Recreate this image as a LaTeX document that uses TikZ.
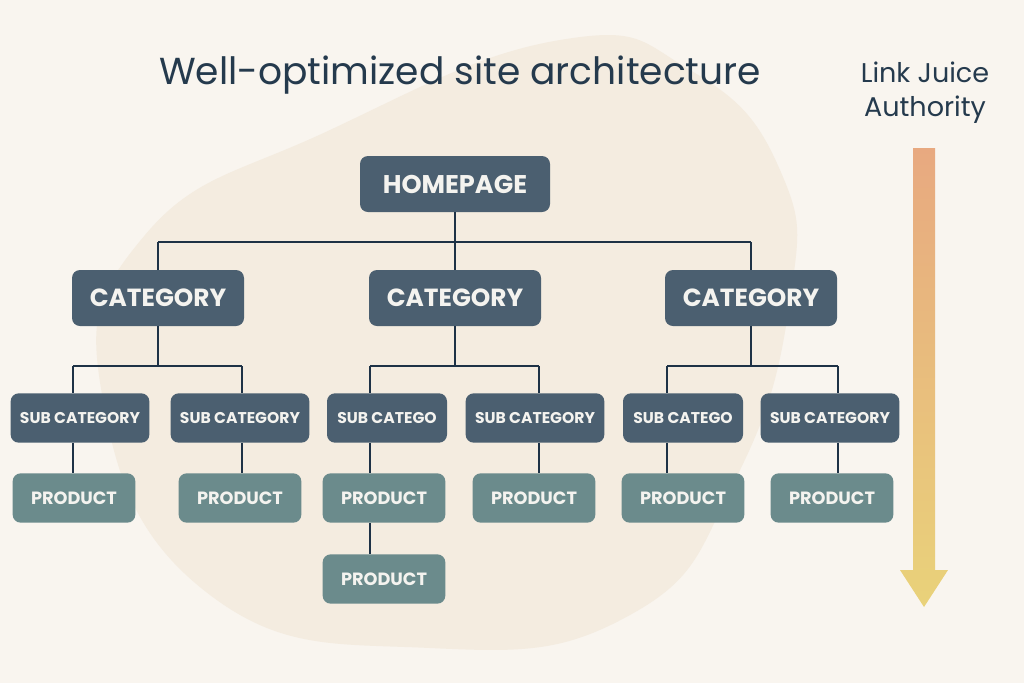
\documentclass[tikz,border=0pt]{standalone}
\usepackage{fontspec}
\setmainfont{Poppins}
\usetikzlibrary{calc}
\definecolor{bgc}{HTML}{F9F5EF}
\definecolor{blobc}{HTML}{F4ECE0}
\definecolor{darkbox}{HTML}{4B5F70}
\definecolor{prodbox}{HTML}{6B8B8C}
\definecolor{linec}{HTML}{1E3246}
\definecolor{titlec}{HTML}{253A4D}
\definecolor{boxtext}{HTML}{F4F3EF}
\definecolor{arrtop}{HTML}{E8A980}
\definecolor{arrbot}{HTML}{E9D27A}
\tikzset{
  box/.style={rounded corners=6pt, inner sep=0pt, text=boxtext, font=\bfseries},
  homebox/.style={box, fill=darkbox, minimum width=142.5pt, minimum height=42pt, font=\bfseries\fontsize{19.2}{21}\selectfont},
  catbox/.style={box, fill=darkbox, minimum width=129pt, minimum height=42pt, font=\bfseries\fontsize{18.6}{20}\selectfont},
  subbox/.style={box, fill=darkbox, minimum width=104pt, minimum height=37pt, font=\bfseries\fontsize{11.7}{14}\selectfont},
  shortsub/.style={subbox, minimum width=90pt},
  prodbox/.style={box, fill=prodbox, minimum width=92pt, minimum height=37pt, font=\bfseries\fontsize{13.3}{15}\selectfont},
  conn/.style={draw=linec, line width=1.5pt},
}
\begin{document}
\begin{tikzpicture}[x=0.75pt,y=-0.75pt]
\useasboundingbox (0,0) rectangle (1024,683);
\fill[bgc] (0,0) rectangle (1024,683);
% background blob
\fill[blobc] plot[smooth cycle, tension=0.8] coordinates {(560,40) (690,70) (780,170) (790,300) (735,480) (630,615) (430,648) (210,595) (103,400) (145,235) (330,130)};
% title
\node[text=titlec, font=\fontsize{28.2}{30}\selectfont] (title) at (460,75) {Well-optimized site architecture};
\node[text=titlec, font=\fontsize{20.3}{25.5}\selectfont, align=center] (lj) at (925,93) {Link Juice\\Authority};
% arrow
\shade[top color=arrtop, bottom color=arrbot] (913,148) -- (935,148) -- (935,570) -- (948,570) -- (924,607) -- (900,570) -- (913,570) -- cycle;
% nodes
\node[homebox] (home) at (455,184) {HOMEPAGE};
\node[catbox] (cat1) at (158,298) {CATEGORY};
\node[catbox] (cat2) at (455,298) {CATEGORY};
\node[catbox] (cat3) at (751,298) {CATEGORY};
\node[subbox] (sub1) at (80,418) {SUB CATEGORY};
\node[subbox] (sub2) at (240,418) {SUB CATEGORY};
\node[shortsub] (sub3) at (387,418) {SUB CATEGO};
\node[subbox] (sub4) at (535,418) {SUB CATEGORY};
\node[shortsub] (sub5) at (683,418) {SUB CATEGO};
\node[subbox] (sub6) at (830,418) {SUB CATEGORY};
\node[prodbox] (p1) at (74,498) {PRODUCT};
\node[prodbox] (p2) at (240,498) {PRODUCT};
\node[prodbox] (p3) at (384,498) {PRODUCT};
\node[prodbox] (p3b) at (384,579) {PRODUCT};
\node[prodbox] (p4) at (534,498) {PRODUCT};
\node[prodbox] (p5) at (683,498) {PRODUCT};
\node[prodbox] (p6) at (832,498) {PRODUCT};
% bus coordinates
\coordinate (b0l) at (158,242);
\coordinate (b0r) at (751,242);
\coordinate (b1l) at (73,366);
\coordinate (b1r) at (242,366);
\coordinate (b2l) at (370,366);
\coordinate (b2r) at (539,366);
\coordinate (b3l) at (667,366);
\coordinate (b3r) at (838,366);
% connectors
\draw[conn] (home.south) -- (home.south |- b0l);
\draw[conn] (b0l) -- (b0r);
\draw[conn] (b0l) -- (cat1.north);
\draw[conn] (cat2.north |- b0l) -- (cat2.north);
\draw[conn] (b0r) -- (cat3.north);
\draw[conn] (cat1.south) -- (cat1.south |- b1l);
\draw[conn] (b1l) -- (b1r);
\draw[conn] (b1l) -- (b1l |- sub1.north);
\draw[conn] (b1r) -- (b1r |- sub2.north);
\draw[conn] (cat2.south) -- (cat2.south |- b2l);
\draw[conn] (b2l) -- (b2r);
\draw[conn] (b2l) -- (b2l |- sub3.north);
\draw[conn] (b2r) -- (b2r |- sub4.north);
\draw[conn] (cat3.south) -- (cat3.south |- b3l);
\draw[conn] (b3l) -- (b3r);
\draw[conn] (b3l) -- (b3l |- sub5.north);
\draw[conn] (b3r) -- (b3r |- sub6.north);
\draw[conn] (b1l |- sub1.south) -- (b1l |- p1.north);
\draw[conn] (b1r |- sub2.south) -- (b1r |- p2.north);
\draw[conn] (b2l |- sub3.south) -- (b2l |- p3.north);
\draw[conn] (b2l |- p3.south) -- (b2l |- p3b.north);
\draw[conn] (b2r |- sub4.south) -- (b2r |- p4.north);
\draw[conn] (b3l |- sub5.south) -- (b3l |- p5.north);
\draw[conn] (b3r |- sub6.south) -- (b3r |- p6.north);
\end{tikzpicture}
\end{document}
